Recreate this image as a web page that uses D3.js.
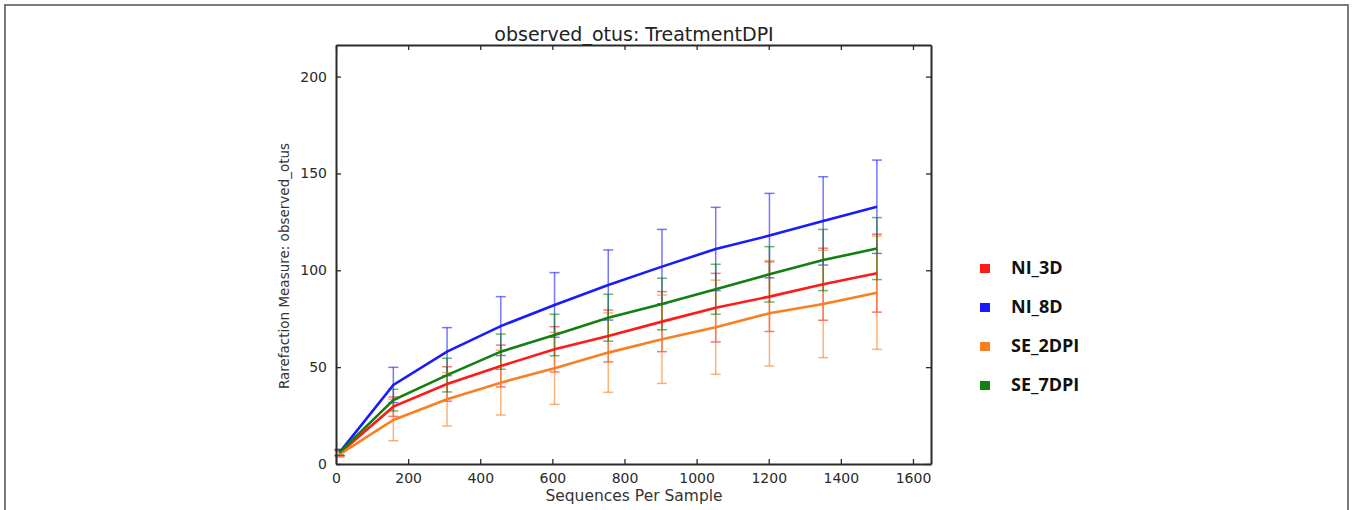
<!DOCTYPE html>
<html>
<head>
<meta charset="utf-8">
<script src="https://cdn.jsdelivr.net/npm/d3@7"></script>
<style>
  body { margin: 0; background: white; }
  svg { display: block; }
</style>
</head>
<body>
<svg></svg>
<script>
var w = 1352;
var h = 510;

var svg = d3.select("svg")
            .attr("width", w)
            .attr("height", h);

// sequences per sample (rarefaction depths)
var depths = [10, 159, 308, 457, 606, 755, 904, 1053, 1202, 1351, 1500];

var groups = ["NI_3D", "NI_8D", "SE_2DPI", "SE_7DPI"];
var groupColors = ["#ff1a1a", "#1a1aff", "#f98020", "#108010"];

// mean observed otus for each group
var ni3dMean  = [5.5, 29.6, 41.3, 50.6, 59.2, 66.1, 73.5, 80.7, 86.4, 92.8, 98.5];
var ni8dMean  = [6.0, 40.8, 58.0, 71.2, 82.1, 92.4, 101.9, 111.0, 117.9, 125.5, 132.8];
var se2dpiMean = [5.0, 22.7, 33.4, 42.0, 49.4, 57.5, 64.4, 70.6, 77.8, 82.6, 88.4];
var se7dpiMean = [6.0, 33.0, 45.9, 58.0, 66.6, 75.5, 82.6, 90.2, 97.9, 105.3, 111.2];

// standard deviations
var ni3dErr  = [1.5, 5.0, 8.9, 10.8, 11.7, 13.4, 15.5, 17.7, 18.0, 18.6, 20.1];
var ni8dErr  = [1.5, 9.1, 12.4, 15.2, 16.7, 18.1, 19.2, 21.5, 21.8, 22.8, 24.1];
var se2dpiErr = [1.5, 10.7, 13.8, 16.7, 18.6, 20.5, 22.8, 24.3, 27.2, 27.7, 29.2];
var se7dpiErr = [1.5, 5.6, 8.7, 9.1, 10.7, 12.1, 13.3, 12.9, 14.3, 15.8, 16.0];

var xTicks = [0, 200, 400, 600, 800, 1000, 1200, 1400, 1600];
var yTicks = [0, 50, 100, 150, 200];

var series = [
  { name: groups[0], color: groupColors[0], mean: ni3dMean, err: ni3dErr },
  { name: groups[1], color: groupColors[1], mean: ni8dMean, err: ni8dErr },
  { name: groups[2], color: groupColors[2], mean: se2dpiMean, err: se2dpiErr },
  { name: groups[3], color: groupColors[3], mean: se7dpiMean, err: se7dpiErr }
];

// outer frame of the figure
svg.append("rect")
    .attr("x", 5)
    .attr("y", 5)
    .attr("width", 1343)
    .attr("height", 520)
    .attr("fill", "none")
    .attr("stroke", "#7a7a7a")
    .attr("stroke-width", 2);

var plotLeft = 336, plotRight = 931, plotTop = 45, plotBottom = 464;

var xScale = d3.scaleLinear()
                .domain([0, 1650])
                .range([plotLeft, plotRight]);

var yScale = d3.scaleLinear()
                .domain([0, 216.3])
                .range([plotBottom, plotTop]);

var canvas = svg.append("g");

// error bars first, lines on top
series.forEach(function(s) {
  var pts = depths.map(function(d, i) {
    return { x: d, m: s.mean[i], e: s.err[i] };
  });
  var eg = canvas.append("g")
      .attr("stroke", s.color)
      .attr("stroke-opacity", 0.6)
      .attr("stroke-width", 1.5);
  eg.selectAll("line.v")
      .data(pts)
      .join("line")
      .attr("class", "v")
      .attr("x1", function(d) { return xScale(d.x); })
      .attr("x2", function(d) { return xScale(d.x); })
      .attr("y1", function(d) { return yScale(d.m - d.e); })
      .attr("y2", function(d) { return yScale(d.m + d.e); });
  [-1, 1].forEach(function(sign) {
    eg.selectAll("line.c" + (sign + 1))
        .data(pts)
        .join("line")
        .attr("class", "c" + (sign + 1))
        .attr("x1", function(d) { return xScale(d.x) - 5; })
        .attr("x2", function(d) { return xScale(d.x) + 5; })
        .attr("y1", function(d) { return yScale(d.m + sign * d.e); })
        .attr("y2", function(d) { return yScale(d.m + sign * d.e); });
  });
});

var line = d3.line()
    .x(function(d) { return xScale(d[0]); })
    .y(function(d) { return yScale(d[1]); });

series.forEach(function(s) {
  canvas.append("path")
      .datum(depths.map(function(d, i) { return [d, s.mean[i]]; }))
      .attr("d", line)
      .attr("fill", "none")
      .attr("stroke", s.color)
      .attr("stroke-width", 2.6);
});

// axes with inward ticks on all four sides
var axisFont = "DejaVu Sans, sans-serif";
var fmt = d3.format("d");

var xAxis = canvas.append("g")
    .attr("transform", "translate(0," + plotBottom + ")")
    .call(d3.axisBottom(xScale).tickValues(xTicks).tickFormat(fmt).tickSizeInner(-5).tickSizeOuter(0).tickPadding(9));
var xTop = canvas.append("g")
    .attr("transform", "translate(0," + plotTop + ")")
    .call(d3.axisTop(xScale).tickValues(xTicks).tickSizeInner(-5).tickSizeOuter(0).tickFormat(""));
var yAxis = canvas.append("g")
    .attr("transform", "translate(" + plotLeft + ",0)")
    .call(d3.axisLeft(yScale).tickValues(yTicks).tickFormat(fmt).tickSizeInner(-5).tickSizeOuter(0).tickPadding(9));
var yRight = canvas.append("g")
    .attr("transform", "translate(" + plotRight + ",0)")
    .call(d3.axisRight(yScale).tickValues(yTicks).tickSizeInner(-5).tickSizeOuter(0).tickFormat(""));

[xAxis, xTop, yAxis, yRight].forEach(function(a) {
  a.select(".domain").attr("stroke", "#2a2a2a").attr("stroke-width", 2);
  a.selectAll(".tick line").attr("stroke", "#2a2a2a").attr("stroke-width", 1.3);
  a.selectAll("text")
      .attr("fill", "#2a2a2a")
      .style("font-family", axisFont)
      .style("font-size", "14px");
});

// title and axis labels
svg.append("text")
    .attr("x", 634)
    .attr("y", 41)
    .attr("text-anchor", "middle")
    .style("font-family", axisFont)
    .style("font-size", "19px")
    .attr("fill", "#222")
    .text("observed_otus: TreatmentDPI");

svg.append("text")
    .attr("x", 634)
    .attr("y", 501)
    .attr("text-anchor", "middle")
    .style("font-family", axisFont)
    .style("font-size", "15.5px")
    .attr("fill", "#333")
    .text("Sequences Per Sample");

svg.append("text")
    .attr("transform", "rotate(-90)")
    .attr("x", -266)
    .attr("y", 289)
    .attr("text-anchor", "middle")
    .style("font-family", axisFont)
    .style("font-size", "13.5px")
    .attr("fill", "#333")
    .text("Rarefaction Measure: observed_otus");

// legend
var legend = svg.append("g");
legend.selectAll("rect")
    .data(series)
    .join("rect")
    .attr("x", 980)
    .attr("y", function(d, i) { return 264 + i * 39; })
    .attr("width", 10)
    .attr("height", 9)
    .attr("fill", function(d) { return d.color; });

legend.selectAll("text")
    .data(series)
    .join("text")
    .attr("x", 1011)
    .attr("y", function(d, i) { return 269 + i * 39; })
    .attr("dominant-baseline", "middle")
    .style("font-family", "Open Sans, sans-serif")
    .style("font-weight", "bold")
    .style("font-size", "18px")
    .attr("fill", "#111")
    .text(function(d) { return d.name; });
</script>
</body>
</html>
